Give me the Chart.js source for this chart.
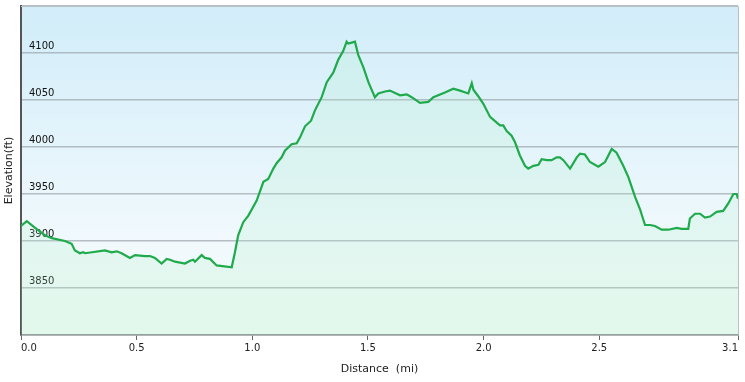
<!DOCTYPE html>
<html>
<head>
<meta charset="utf-8">
<script src="https://cdn.jsdelivr.net/npm/chart.js@4/dist/chart.umd.min.js"></script>
<style>
  html, body { margin: 0; padding: 0; background: #ffffff; }
  #wrap { width: 745px; height: 382px; position: relative; }
</style>
</head>
<body>
<div id="wrap"><canvas id="c" width="745" height="382"></canvas></div>
<script>
// Distance (mi)
const distances = [
  0.000, 0.025, 0.061, 0.104, 0.133, 0.190, 0.219, 0.233, 0.255, 0.269,
  0.277, 0.363, 0.392, 0.414, 0.435, 0.471, 0.493, 0.536, 0.558, 0.579,
  0.608, 0.630, 0.644, 0.666, 0.709, 0.731, 0.745, 0.752, 0.781, 0.795,
  0.817, 0.846, 0.911, 0.925, 0.939, 0.961, 0.983, 1.019, 1.048, 1.069,
  1.091, 1.106, 1.127, 1.141, 1.170, 1.192, 1.206, 1.228, 1.254, 1.271,
  1.300, 1.322, 1.350, 1.372, 1.393, 1.408, 1.415, 1.430, 1.444, 1.458,
  1.480, 1.502, 1.530, 1.545, 1.574, 1.595, 1.639, 1.668, 1.689, 1.725,
  1.761, 1.783, 1.833, 1.869, 1.898, 1.934, 1.949, 1.956, 1.977, 1.999,
  2.028, 2.057, 2.071, 2.085, 2.100, 2.121, 2.136, 2.157, 2.179, 2.193,
  2.215, 2.237, 2.251, 2.273, 2.294, 2.316, 2.330, 2.345, 2.374, 2.403,
  2.417, 2.438, 2.460, 2.496, 2.525, 2.554, 2.575, 2.604, 2.626, 2.655,
  2.676, 2.698, 2.720, 2.741, 2.770, 2.799, 2.835, 2.856, 2.885, 2.892,
  2.914, 2.936, 2.957, 2.979, 3.008, 3.036, 3.058, 3.080, 3.094, 3.100
];
// Elevation (ft)
const elevations = [
  3916, 3921, 3914, 3906, 3903, 3900, 3897, 3890, 3887, 3888,
  3887, 3890, 3888, 3889, 3887, 3882, 3885, 3884, 3884, 3882,
  3876, 3881, 3880, 3878, 3876, 3879, 3880, 3878, 3885, 3882,
  3881, 3874, 3872, 3888, 3906, 3920, 3927, 3943, 3963, 3966,
  3977, 3983, 3989, 3996, 4003, 4004, 4010, 4022, 4028, 4039,
  4053, 4069, 4079, 4093, 4102, 4112, 4110, 4111, 4112, 4098,
  4085, 4069, 4053, 4057, 4059, 4060, 4055, 4056, 4053, 4047,
  4048, 4053, 4058, 4062, 4060, 4057, 4068, 4061, 4054, 4046,
  4032, 4026, 4023, 4023, 4017, 4012, 4005, 3991, 3980, 3977,
  3980, 3981, 3987, 3986, 3986, 3989, 3989, 3986, 3977, 3989,
  3993, 3992, 3984, 3979, 3984, 3998, 3994, 3980, 3968, 3947,
  3934, 3917, 3917, 3916, 3912, 3912, 3914, 3913, 3913, 3924,
  3929, 3929, 3925, 3926, 3931, 3932, 3940, 3950, 3950, 3945
];
const xTickValues = [0, 0.5, 1.0, 1.5, 2.0, 2.5, 3.1];
const yTickValues = [3800, 3850, 3900, 3950, 4000, 4050, 4100, 4150];
const xTitle = 'Distance  (mi)';
const yTitle = 'Elevation(ft)';

const points = distances.map((d, i) => ({ x: d, y: elevations[i] }));

const bgPlugin = {
  id: 'plotBg',
  beforeDraw(chart) {
    const { ctx, chartArea: a } = chart;
    const g = ctx.createLinearGradient(0, a.top, 0, a.bottom);
    g.addColorStop(0, '#d1edf9');
    g.addColorStop(0.72, '#f1f9fd');
    g.addColorStop(1, '#eefaf3');
    ctx.save();
    ctx.fillStyle = g;
    ctx.fillRect(a.left, a.top, a.right - a.left, a.bottom - a.top);
    ctx.restore();
  },
  afterDraw(chart) {
    const { ctx, chartArea: a } = chart;
    ctx.save();
    ctx.strokeStyle = '#b9bfc3';
    ctx.lineWidth = 1;
    ctx.beginPath();
    ctx.moveTo(a.left, a.top + 0.5);
    ctx.lineTo(a.right + 0.5, a.top + 0.5);
    ctx.lineTo(a.right + 0.5, a.bottom);
    ctx.stroke();
    ctx.restore();
  }
};

new Chart(document.getElementById('c'), {
  type: 'line',
  data: {
    datasets: [{
      data: points,
      borderColor: '#1faa4b',
      borderWidth: 2.2,
      pointRadius: 0,
      tension: 0,
      fill: 'start',
      backgroundColor: 'rgba(175, 240, 200, 0.2)'
    }]
  },
  plugins: [bgPlugin],
  options: {
    responsive: false,
    animation: false,
    layout: { padding: { top: 6, right: 7, left: 0, bottom: 0 } },
    plugins: { legend: { display: false }, tooltip: { enabled: false } },
    scales: {
      x: {
        type: 'linear',
        min: 0,
        max: 3.1,
        afterBuildTicks(scale) { scale.ticks = xTickValues.map(v => ({ value: v })); },
        afterFit(scale) { scale.height = 47; scale.paddingLeft = 0; scale.paddingRight = 0; },
        grid: { drawOnChartArea: false, drawTicks: true, tickLength: 5, tickColor: '#666', lineWidth: 1 },
        border: { display: true, color: '#8a8f92', width: 1.5 },
        ticks: {
          align: 'inner',
          maxRotation: 0,
          padding: 2,
          color: '#222',
          font: { family: 'DejaVu Sans', size: 10 },
          callback: v => Number(v).toFixed(1)
        },
        title: {
          display: true,
          text: xTitle,
          color: '#222',
          font: { family: 'DejaVu Sans', size: 11 },
          padding: { top: 0, bottom: 6 }
        }
      },
      y: {
        type: 'linear',
        min: 3800,
        max: 4150,
        afterBuildTicks(scale) { scale.ticks = yTickValues.map(v => ({ value: v })); },
        afterFit(scale) { scale.width = 21; scale.paddingTop = 0; scale.paddingBottom = 0; },
        grid: { drawTicks: false, color: 'rgba(160,170,176,0.75)', lineWidth: 1.5 },
        border: { display: true, color: '#555', width: 2 },
        ticks: {
          mirror: true,
          padding: 8,
          labelOffset: -7,
          color: '#111',
          font: { family: 'DejaVu Sans', size: 10 },
          callback: v => (v === 3800 || v === 4150) ? '' : String(v)
        },
        title: {
          display: true,
          text: yTitle,
          color: '#222',
          font: { family: 'DejaVu Sans', size: 11 },
          padding: { top: 3, bottom: 0 }
        }
      }
    }
  }
});
</script>
</body>
</html>
